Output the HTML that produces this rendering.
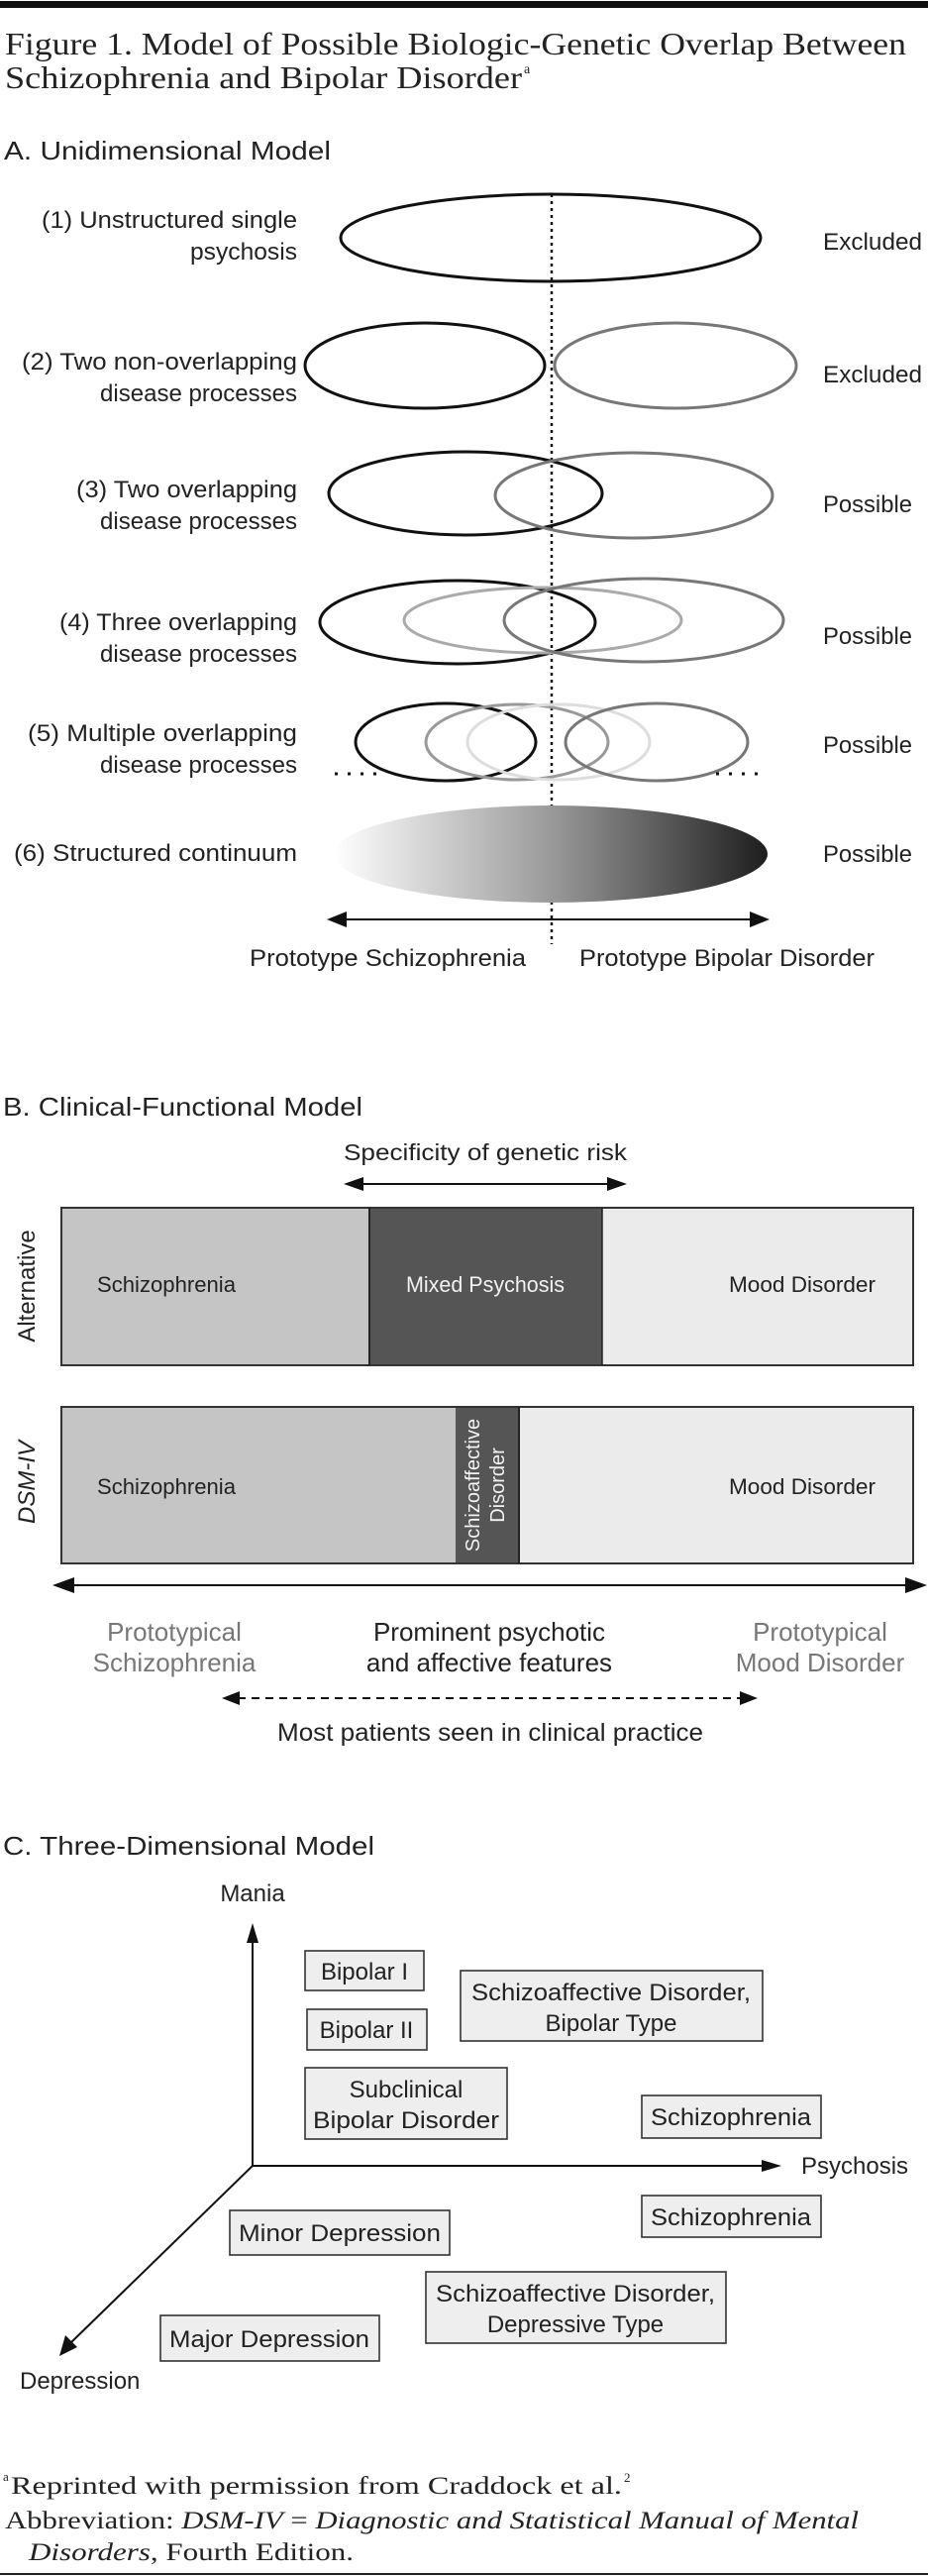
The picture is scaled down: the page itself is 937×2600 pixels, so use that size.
<!DOCTYPE html>
<html><head><meta charset="utf-8"><style>
html,body{margin:0;padding:0;background:#fff;}
svg{display:block;}
.s{font-family:"Liberation Sans",sans-serif;}
.r{font-family:"Liberation Serif",serif;}
</style></head><body>
<svg width="937" height="2600" viewBox="0 0 937 2600" xmlns="http://www.w3.org/2000/svg">
<defs>
<linearGradient id="g6" x1="0" x2="1" y1="0" y2="0">
<stop offset="0" stop-color="#ffffff"/><stop offset="0.5" stop-color="#9a9a9a"/><stop offset="1" stop-color="#1e1e1e"/>
</linearGradient>
</defs>
<rect x="0" y="1" width="937" height="7" fill="#111"/>
<text class="r" x="5" y="55" font-size="32" textLength="910" lengthAdjust="spacingAndGlyphs" fill="#222">Figure 1. Model of Possible Biologic-Genetic Overlap Between</text>
<text class="r" x="5" y="89" font-size="32" textLength="522" lengthAdjust="spacingAndGlyphs" fill="#222">Schizophrenia and Bipolar Disorder</text>
<text class="r" x="529" y="74" font-size="14" fill="#222">a</text>

<text class="s" x="4" y="161" font-size="26" textLength="330" lengthAdjust="spacingAndGlyphs" fill="#222">A. Unidimensional Model</text>

<g class="s" font-size="24" fill="#222" text-anchor="end">
<text x="300" y="230" textLength="258" lengthAdjust="spacingAndGlyphs">(1) Unstructured single</text><text x="300" y="262" textLength="108" lengthAdjust="spacingAndGlyphs">psychosis</text>
<text x="300" y="373" textLength="278" lengthAdjust="spacingAndGlyphs">(2) Two non-overlapping</text><text x="300" y="405" textLength="199" lengthAdjust="spacingAndGlyphs">disease processes</text>
<text x="300" y="502" textLength="223" lengthAdjust="spacingAndGlyphs">(3) Two overlapping</text><text x="300" y="534" textLength="199" lengthAdjust="spacingAndGlyphs">disease processes</text>
<text x="300" y="636" textLength="240" lengthAdjust="spacingAndGlyphs">(4) Three overlapping</text><text x="300" y="668" textLength="199" lengthAdjust="spacingAndGlyphs">disease processes</text>
<text x="300" y="748" textLength="272" lengthAdjust="spacingAndGlyphs">(5) Multiple overlapping</text><text x="300" y="780" textLength="199" lengthAdjust="spacingAndGlyphs">disease processes</text>
<text x="300" y="869" textLength="286" lengthAdjust="spacingAndGlyphs">(6) Structured continuum</text>
</g>
<g class="s" font-size="24" fill="#222">
<text x="831" y="252" textLength="100" lengthAdjust="spacingAndGlyphs">Excluded</text>
<text x="831" y="386" textLength="100" lengthAdjust="spacingAndGlyphs">Excluded</text>
<text x="831" y="517" textLength="90" lengthAdjust="spacingAndGlyphs">Possible</text>
<text x="831" y="650" textLength="90" lengthAdjust="spacingAndGlyphs">Possible</text>
<text x="831" y="760" textLength="90" lengthAdjust="spacingAndGlyphs">Possible</text>
<text x="831" y="870" textLength="90" lengthAdjust="spacingAndGlyphs">Possible</text>
</g>

<line x1="557" y1="196" x2="557" y2="953" stroke="#111" stroke-width="2.5" stroke-dasharray="3 4"/>
<g fill="none" stroke-width="3">
<ellipse cx="556" cy="240" rx="212" ry="44" stroke="#111"/>
<ellipse cx="429" cy="369" rx="121" ry="43" stroke="#111"/>
<ellipse cx="682" cy="369" rx="122" ry="43" stroke="#777"/>
<ellipse cx="470" cy="498" rx="138" ry="42" stroke="#111"/>
<ellipse cx="640" cy="500" rx="140" ry="43" stroke="#777"/>
<ellipse cx="462" cy="628" rx="139" ry="42" stroke="#111"/>
<ellipse cx="548" cy="626" rx="140" ry="33" stroke="#aaa"/>
<ellipse cx="650" cy="626" rx="141" ry="42" stroke="#777"/>
<ellipse cx="450" cy="749" rx="91" ry="39" stroke="#111"/>
<ellipse cx="522" cy="749" rx="92" ry="38" stroke="#999"/>
<ellipse cx="564" cy="749" rx="92" ry="38" stroke="#ddd"/>
<ellipse cx="663" cy="749" rx="92" ry="39" stroke="#777"/>
</g>
<line x1="338" y1="781" x2="384" y2="781" stroke="#111" stroke-width="3" stroke-dasharray="3 10"/>
<line x1="723" y1="781" x2="769" y2="781" stroke="#111" stroke-width="3" stroke-dasharray="3 10"/>
<ellipse cx="556" cy="862" rx="219" ry="49" fill="url(#g6)"/>
<line x1="345" y1="928" x2="762" y2="928" stroke="#111" stroke-width="2"/>
<polygon points="330,928 350,920 350,936" fill="#111"/>
<polygon points="777,928 757,920 757,936" fill="#111"/>
<g class="s" font-size="24" fill="#222">
<text x="252" y="975" textLength="279" lengthAdjust="spacingAndGlyphs">Prototype Schizophrenia</text>
<text x="585" y="975" textLength="298" lengthAdjust="spacingAndGlyphs">Prototype Bipolar Disorder</text>
</g>

<!-- B -->
<text class="s" x="3" y="1126" font-size="26" textLength="363" lengthAdjust="spacingAndGlyphs" fill="#222">B. Clinical-Functional Model</text>
<text class="s" x="347" y="1171" font-size="23" textLength="286" lengthAdjust="spacingAndGlyphs" fill="#222">Specificity of genetic risk</text>
<line x1="360" y1="1195" x2="620" y2="1195" stroke="#111" stroke-width="2"/>
<polygon points="347,1195 367,1188 367,1202" fill="#111"/>
<polygon points="633,1195 613,1188 613,1202" fill="#111"/>

<rect x="62" y="1219" width="311" height="159" fill="#c5c5c5"/>
<rect x="373" y="1219" width="235" height="159" fill="#555"/>
<rect x="608" y="1219" width="314" height="159" fill="#ebebeb"/>
<rect x="62" y="1219" width="860" height="159" fill="none" stroke="#333" stroke-width="2"/>
<line x1="373" y1="1219" x2="373" y2="1378" stroke="#222" stroke-width="2"/>
<line x1="608" y1="1219" x2="608" y2="1378" stroke="#222" stroke-width="1.5"/>
<g class="s" font-size="22">
<text x="98" y="1304" fill="#222" textLength="140" lengthAdjust="spacingAndGlyphs">Schizophrenia</text>
<text x="410" y="1304" fill="#f2f2f2" textLength="160" lengthAdjust="spacingAndGlyphs">Mixed Psychosis</text>
<text x="736" y="1304" fill="#222" textLength="148" lengthAdjust="spacingAndGlyphs">Mood Disorder</text>
</g>
<text class="s" font-size="24" fill="#222" text-anchor="middle" transform="translate(35,1298) rotate(-90)">Alternative</text>

<rect x="62" y="1420" width="398" height="158" fill="#c5c5c5"/>
<rect x="460" y="1420" width="64" height="158" fill="#555"/>
<rect x="524" y="1420" width="398" height="158" fill="#ebebeb"/>
<rect x="62" y="1420" width="860" height="158" fill="none" stroke="#333" stroke-width="2"/>
<line x1="524" y1="1420" x2="524" y2="1578" stroke="#222" stroke-width="2"/>
<g class="s" font-size="22" fill="#222">
<text x="98" y="1508" textLength="140" lengthAdjust="spacingAndGlyphs">Schizophrenia</text>
<text x="736" y="1508" textLength="148" lengthAdjust="spacingAndGlyphs">Mood Disorder</text>
</g>
<g class="s" font-size="20" fill="#f2f2f2" text-anchor="middle">
<text transform="translate(484,1499) rotate(-90)">Schizoaffective</text>
<text transform="translate(509,1499) rotate(-90)">Disorder</text>
</g>
<text class="s" font-size="24" font-style="italic" fill="#222" text-anchor="middle" transform="translate(35,1496) rotate(-90)">DSM-IV</text>

<line x1="70" y1="1600" x2="920" y2="1600" stroke="#111" stroke-width="2"/>
<polygon points="53,1600 75,1592 75,1608" fill="#111"/>
<polygon points="936,1600 914,1592 914,1608" fill="#111"/>
<g class="s" font-size="26" text-anchor="middle">
<text x="176" y="1656" fill="#777">Prototypical</text>
<text x="176" y="1687" fill="#777">Schizophrenia</text>
<text x="494" y="1656" fill="#222">Prominent psychotic</text>
<text x="494" y="1687" fill="#222">and affective features</text>
<text x="828" y="1656" fill="#777">Prototypical</text>
<text x="828" y="1687" fill="#777">Mood Disorder</text>
</g>
<line x1="240" y1="1714" x2="750" y2="1714" stroke="#111" stroke-width="2" stroke-dasharray="8 6"/>
<polygon points="224,1714 242,1707 242,1721" fill="#111"/>
<polygon points="765,1714 747,1707 747,1721" fill="#111"/>
<text class="s" x="280" y="1757" font-size="25" textLength="430" lengthAdjust="spacingAndGlyphs" fill="#222">Most patients seen in clinical practice</text>

<!-- C -->
<text class="s" x="3" y="1872" font-size="26" textLength="375" lengthAdjust="spacingAndGlyphs" fill="#222">C. Three-Dimensional Model</text>
<text class="s" x="255" y="1919" font-size="24" text-anchor="middle" fill="#222">Mania</text>
<text class="s" x="809" y="2194" font-size="24" fill="#222">Psychosis</text>
<text class="s" x="20" y="2411" font-size="24" fill="#222">Depression</text>
<line x1="255" y1="1958" x2="255" y2="2186" stroke="#111" stroke-width="2"/>
<polygon points="255,1941 249,1961 261,1961" fill="#111"/>
<line x1="255" y1="2186" x2="772" y2="2186" stroke="#111" stroke-width="2"/>
<polygon points="789,2186 769,2180 769,2192" fill="#111"/>
<line x1="255" y1="2186" x2="70" y2="2366" stroke="#111" stroke-width="2"/>
<polygon points="60,2378 66,2357 78,2369" fill="#111"/>

<g fill="#eeeeee" stroke="#333" stroke-width="1.6">
<rect x="308" y="1969" width="120" height="40"/>
<rect x="310" y="2028" width="121" height="41"/>
<rect x="308" y="2087" width="204" height="72"/>
<rect x="465" y="1989" width="305" height="71"/>
<rect x="648" y="2115" width="181" height="43"/>
<rect x="648" y="2216" width="181" height="42"/>
<rect x="232" y="2231" width="222" height="45"/>
<rect x="430" y="2293" width="303" height="72"/>
<rect x="162" y="2337" width="221" height="46"/>
</g>
<g class="s" font-size="24" fill="#222" text-anchor="middle">
<text x="368" y="1998">Bipolar I</text>
<text x="370" y="2057">Bipolar II</text>
<text x="410" y="2117">Subclinical</text>
<text x="410" y="2148" textLength="188" lengthAdjust="spacingAndGlyphs">Bipolar Disorder</text>
<text x="617" y="2019" textLength="282" lengthAdjust="spacingAndGlyphs">Schizoaffective Disorder,</text>
<text x="617" y="2050">Bipolar Type</text>
<text x="738" y="2145" textLength="162" lengthAdjust="spacingAndGlyphs">Schizophrenia</text>
<text x="738" y="2246" textLength="162" lengthAdjust="spacingAndGlyphs">Schizophrenia</text>
<text x="343" y="2262" textLength="204" lengthAdjust="spacingAndGlyphs">Minor Depression</text>
<text x="581" y="2323" textLength="282" lengthAdjust="spacingAndGlyphs">Schizoaffective Disorder,</text>
<text x="581" y="2354">Depressive  Type</text>
<text x="272" y="2369" textLength="202" lengthAdjust="spacingAndGlyphs">Major Depression</text>
</g>

<g class="r" font-size="25" fill="#222">
<text x="3" y="2504" font-size="13">a</text>
<text x="11" y="2517" textLength="617" lengthAdjust="spacingAndGlyphs">Reprinted with permission from Craddock et al.</text>
<text x="630" y="2505" font-size="13">2</text>
<text x="5" y="2552" textLength="862" lengthAdjust="spacingAndGlyphs">Abbreviation: <tspan font-style="italic">DSM-IV</tspan> = <tspan font-style="italic">Diagnostic and Statistical Manual of Mental</tspan></text>
<text x="29" y="2584" textLength="328" lengthAdjust="spacingAndGlyphs"><tspan font-style="italic">Disorders</tspan>, Fourth Edition.</text>
</g>
<rect x="0" y="2597" width="937" height="2" fill="#222"/>
</svg>
</body></html>
